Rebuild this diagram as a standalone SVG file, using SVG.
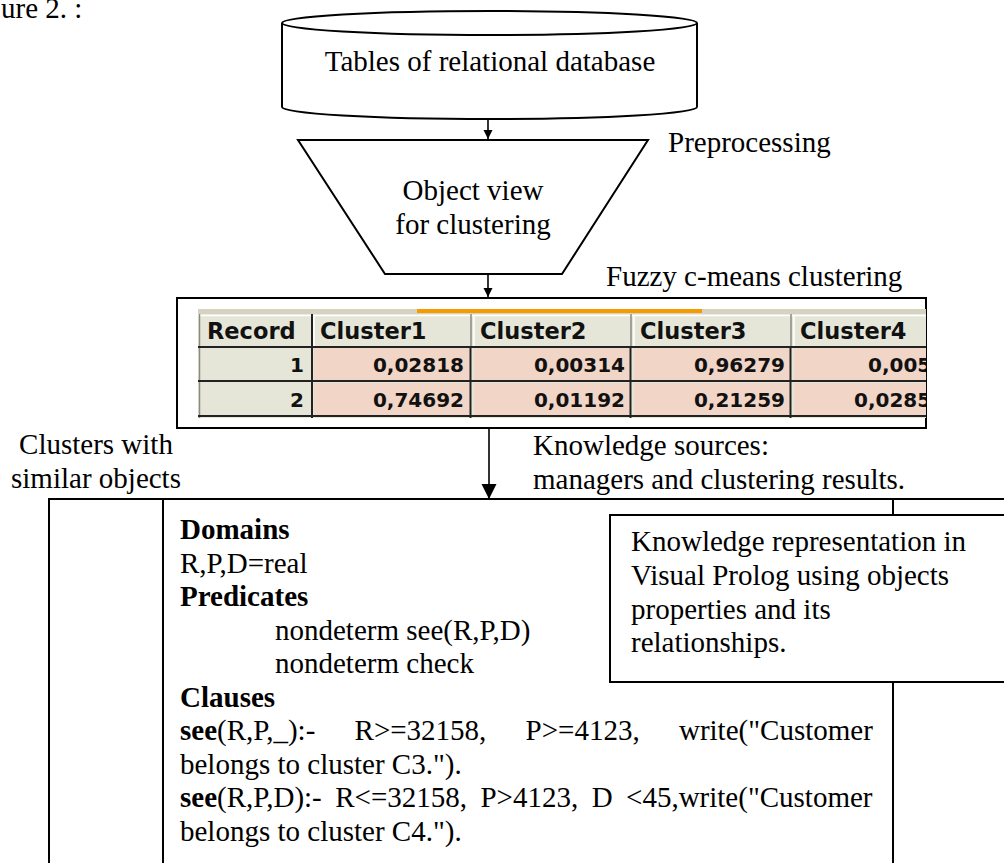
<svg xmlns="http://www.w3.org/2000/svg" width="1004" height="863" viewBox="0 0 1004 863">
<defs>
<style>
.t{font-family:"Liberation Serif","Times New Roman",serif;font-size:29px;fill:#000}
.b{font-weight:bold}
.mid{text-anchor:middle}
.shape{fill:#fff;stroke:#000;stroke-width:2}
.ln{stroke:#000;stroke-width:2;fill:none}
.conn{stroke:#000;stroke-width:1.6;fill:none}
.tb{font-family:"DejaVu Sans",Verdana,sans-serif;font-weight:bold;fill:#111}
.th{font-size:22.5px}
.td{font-size:20px;text-anchor:end}
</style>
<marker id="ah" markerUnits="userSpaceOnUse" markerWidth="10" markerHeight="10" refX="9" refY="4.5" orient="auto"><path d="M0,0 L9,4.5 L0,9 z" fill="#000"/></marker>
<marker id="ahb" markerUnits="userSpaceOnUse" markerWidth="16" markerHeight="16" refX="15" refY="7.5" orient="auto"><path d="M0,0 L15,7.5 L0,15 z" fill="#000"/></marker>
<clipPath id="tclip"><rect x="198" y="308" width="728" height="110"/></clipPath>
</defs>
<rect width="1004" height="863" fill="#fff"/>

<g id="caption"><text class="t" x="1" y="18" font-size="28">ure 2. :</text></g>

<g id="connectors">
<line class="conn" x1="488" y1="119" x2="488" y2="139" marker-end="url(#ah)"/>
<line class="conn" x1="488" y1="274" x2="488" y2="297" marker-end="url(#ah)"/>
<line class="conn" x1="489" y1="428" x2="489" y2="499" stroke-width="2" marker-end="url(#ahb)"/>
</g>

<g id="database">
<path class="shape" d="M282,23 L282,107 A207.5,12 0 0,0 697,107 L697,23 A207.5,12 0 0,0 282,23 Z"/>
<path class="ln" d="M282,23 A207.5,12 0 0,0 697,23"/>
<text class="t mid" x="490" y="71">Tables of relational database</text>
</g>

<g id="preprocessing">
<polygon class="shape" points="298,140 648,140 562,274 385,274"/>
<text class="t mid" x="473" y="200">Object view</text>
<text class="t mid" x="473" y="234">for clustering</text>
<text class="t" x="668" y="152">Preprocessing</text>
</g>

<g id="clustering">
<text class="t" x="606" y="286">Fuzzy c-means clustering</text>
<rect class="shape" x="177" y="298" width="749" height="130"/>
<g clip-path="url(#tclip)">
<rect x="198" y="309" width="728" height="5" fill="#d6d2c0"/>
<rect x="417" y="309" width="285" height="4" fill="#f59b00"/>
<rect x="198" y="314" width="728" height="104" fill="#e6e6d8"/>
<g fill="#f1d5c6">
<rect x="314" y="348" width="156" height="33"/>
<rect x="474" y="348" width="156" height="33"/>
<rect x="634" y="348" width="156" height="33"/>
<rect x="794" y="348" width="156" height="33"/>
<rect x="314" y="383" width="156" height="33"/>
<rect x="474" y="383" width="156" height="33"/>
<rect x="634" y="383" width="156" height="33"/>
<rect x="794" y="383" width="156" height="33"/>
</g>
<g stroke="#fff" stroke-width="1.5">
<line x1="198" y1="315.5" x2="926" y2="315.5"/>
<line x1="314" y1="315" x2="314" y2="346"/>
<line x1="474" y1="315" x2="474" y2="346"/>
<line x1="634" y1="315" x2="634" y2="346"/>
<line x1="794" y1="315" x2="794" y2="346"/>
</g>
<g stroke="#8a8a80" stroke-width="1.5">
<line x1="199.5" y1="314" x2="199.5" y2="418"/>
<line x1="471" y1="314" x2="471" y2="347"/>
<line x1="631" y1="314" x2="631" y2="347"/>
<line x1="791" y1="314" x2="791" y2="347"/>
</g>
<g stroke="#222" stroke-width="2">
<line x1="198" y1="347" x2="926" y2="347"/>
<line x1="312" y1="314" x2="312" y2="418"/>
<line x1="198" y1="381" x2="926" y2="381"/>
<line x1="198" y1="416" x2="926" y2="416"/>
<line x1="470.5" y1="347" x2="470.5" y2="418"/>
<line x1="630.5" y1="347" x2="630.5" y2="418"/>
<line x1="790.5" y1="347" x2="790.5" y2="418"/>
</g>
<text class="tb th" x="207" y="339">Record</text>
<text class="tb th" x="320" y="339">Cluster1</text>
<text class="tb th" x="480" y="339">Cluster2</text>
<text class="tb th" x="640" y="339">Cluster3</text>
<text class="tb th" x="800" y="339">Cluster4</text>
<text class="tb td" x="304" y="372">1</text>
<text class="tb td" x="464" y="372">0,02818</text>
<text class="tb td" x="625" y="372">0,00314</text>
<text class="tb td" x="785" y="372">0,96279</text>
<text class="tb" font-size="20" x="868" y="372">0,005</text>
<text class="tb td" x="304" y="407">2</text>
<text class="tb td" x="464" y="407">0,74692</text>
<text class="tb td" x="625" y="407">0,01192</text>
<text class="tb td" x="785" y="407">0,21259</text>
<text class="tb" font-size="20" x="854" y="407">0,0285</text>
</g>
</g>

<g id="labels">
<text class="t mid" x="96" y="454">Clusters with</text>
<text class="t mid" x="96" y="488">similar objects</text>
<text class="t" x="533" y="455">Knowledge sources:</text>
<text class="t" x="533" y="489">managers and clustering results.</text>
</g>

<g id="prolog-program">
<line class="ln" x1="49" y1="499" x2="1004" y2="499"/>
<line class="ln" x1="49" y1="498" x2="49" y2="863"/>
<line class="ln" x1="163" y1="499" x2="163" y2="863"/>
<line class="ln" x1="893" y1="499" x2="893" y2="863"/>
<text class="t b" x="180" y="539">Domains</text>
<text class="t" x="180" y="572.5">R,P,D=real</text>
<text class="t b" x="180" y="606">Predicates</text>
<text class="t" x="275" y="639.5">nondeterm see(R,P,D)</text>
<text class="t" x="275" y="673">nondeterm check</text>
<text class="t b" x="180" y="706.5">Clauses</text>
<text class="t" x="180" y="740" word-spacing="32"><tspan class="b">see</tspan>(R,P,_):- R&gt;=32158, P&gt;=4123, write("Customer</text>
<text class="t" x="180" y="773.5">belongs to cluster C3.").</text>
<text class="t" x="180" y="807" word-spacing="6.2"><tspan class="b">see</tspan>(R,P,D):- R&lt;=32158, P&gt;4123, D &lt;45,write("Customer</text>
<text class="t" x="180" y="840.5">belongs to cluster C4.").</text>
</g>

<g id="knowledge-representation">
<rect class="shape" x="610" y="515" width="400" height="167"/>
<text class="t" x="631" y="551">Knowledge representation in</text>
<text class="t" x="631" y="585">Visual Prolog using objects</text>
<text class="t" x="631" y="618.5">properties and its</text>
<text class="t" x="631" y="652">relationships.</text>
</g>
</svg>
